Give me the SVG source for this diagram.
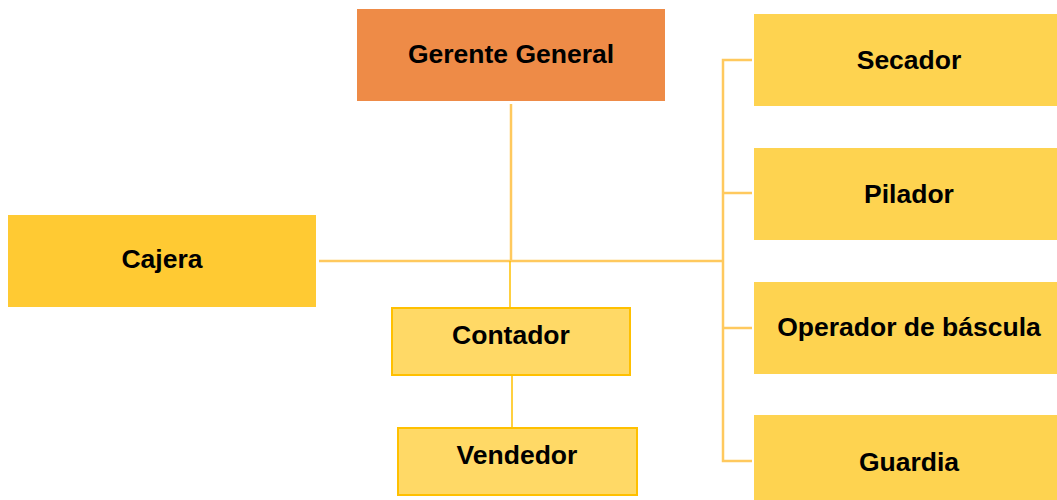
<svg xmlns="http://www.w3.org/2000/svg" width="1057" height="500" viewBox="0 0 1057 500">
<style>
.t{font-family:"Liberation Sans",Arial,sans-serif;font-weight:bold;font-size:26.5px;fill:#000;text-anchor:middle}
.side{fill:#FED350}
.sub{fill:#FFD966;stroke:#FFC000;stroke-width:2}
.c{stroke:#FFC95E;stroke-width:2.5;fill:none}
.c2{stroke:#FFC000;stroke-width:1.5;fill:none}
</style>
<rect width="1057" height="500" fill="#fff"/>
<g id="connectors">
<line class="c" x1="511" y1="104" x2="511" y2="261"/>
<line class="c" x1="319" y1="261" x2="723" y2="261"/>
<polyline class="c" points="752,60 723,60 723,461 752,461"/>
<line class="c" x1="723" y1="193" x2="752" y2="193"/>
<line class="c" x1="723" y1="328" x2="752" y2="328"/>
<line class="c2" x1="510" y1="261" x2="510" y2="314"/>
<line class="c2" x1="512" y1="376" x2="512" y2="427"/>
</g>
<g id="gerente">
<rect x="357" y="9" width="308" height="92" fill="#EE8B47"/>
<text class="t" x="511" y="63">Gerente General</text>
</g>
<g id="cajera">
<rect x="8" y="215" width="308" height="92" fill="#FFCA33"/>
<text class="t" x="162" y="268">Cajera</text>
</g>
<g id="contador">
<rect class="sub" x="392" y="308" width="238" height="67"/>
<text class="t" x="511" y="344">Contador</text>
</g>
<g id="vendedor">
<rect class="sub" x="398" y="428" width="239" height="67"/>
<text class="t" x="517" y="464">Vendedor</text>
</g>
<g id="secador">
<rect class="side" x="754" y="14" width="310" height="92"/>
<text class="t" x="909" y="69">Secador</text>
</g>
<g id="pilador">
<rect class="side" x="754" y="148" width="310" height="92"/>
<text class="t" x="909" y="203">Pilador</text>
</g>
<g id="operador">
<rect class="side" x="754" y="282" width="310" height="92"/>
<text class="t" x="909" y="336">Operador de báscula</text>
</g>
<g id="guardia">
<rect class="side" x="754" y="415" width="310" height="92"/>
<text class="t" x="909" y="471">Guardia</text>
</g>
</svg>
